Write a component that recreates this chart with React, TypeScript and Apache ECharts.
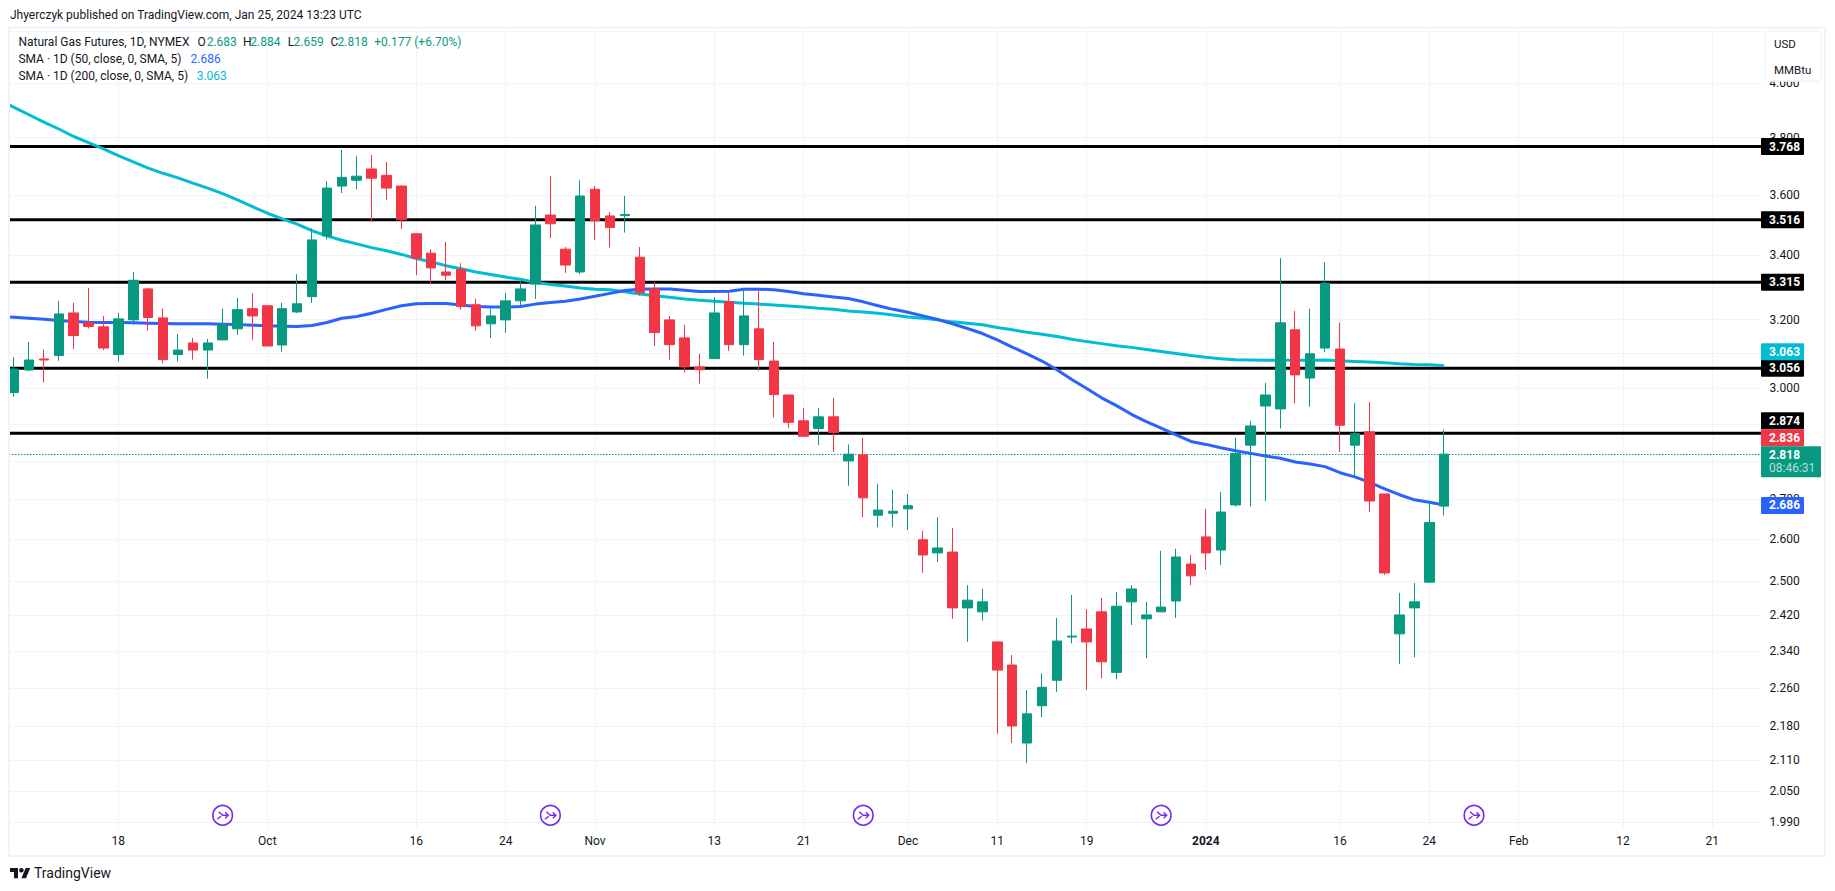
import React, { useEffect, useRef } from "react";
import * as echarts from "echarts";

const dates = [
  "Sep 6","Sep 7","Sep 8","Sep 11","Sep 12","Sep 13","Sep 14","Sep 15","Sep 18","Sep 19","Sep 20","Sep 21","Sep 22","Sep 25","Sep 26","Sep 27","Sep 28","Sep 29",
  "Oct 2","Oct 3","Oct 4","Oct 5","Oct 6","Oct 9","Oct 10","Oct 11","Oct 12","Oct 13","Oct 16","Oct 17","Oct 18","Oct 19","Oct 20","Oct 23","Oct 24","Oct 25","Oct 26","Oct 27","Oct 30","Oct 31",
  "Nov 1","Nov 2","Nov 3","Nov 6","Nov 7","Nov 8","Nov 9","Nov 10","Nov 13","Nov 14","Nov 15","Nov 16","Nov 17","Nov 20","Nov 21","Nov 22","Nov 24","Nov 27","Nov 28","Nov 29","Nov 30",
  "Dec 1","Dec 4","Dec 5","Dec 6","Dec 7","Dec 8","Dec 11","Dec 12","Dec 13","Dec 14","Dec 15","Dec 18","Dec 19","Dec 20","Dec 21","Dec 22","Dec 26","Dec 27","Dec 28","Dec 29",
  "Jan 2","Jan 3","Jan 4","Jan 5","Jan 8","Jan 9","Jan 10","Jan 11","Jan 12","Jan 16","Jan 17","Jan 18","Jan 19","Jan 22","Jan 23","Jan 24","Jan 25",
  "Jan 26","Jan 29","Jan 30","Jan 31","Feb 1","Feb 2","Feb 5","Feb 6","Feb 7","Feb 8","Feb 9","Feb 12","Feb 13","Feb 14","Feb 15","Feb 16","Feb 20","Feb 21","Feb 22","Feb 23","Feb 26",
];
const tickDates = ["Sep 18","Oct 2","Oct 16","Oct 24","Nov 1","Nov 13","Nov 21","Dec 1","Dec 11","Dec 19","Jan 2","Jan 16","Jan 24","Feb 1","Feb 12","Feb 21"];
const tickLabels = ["18","Oct","16","24","Nov","13","21","Dec","11","19","2024","16","24","Feb","12","21"];
const rolloverDates = ["Sep 27","Oct 27","Nov 28","Dec 27","Jan 29"];

const opens = [2.987,3.051,3.083,3.093,3.220,3.191,3.178,3.096,3.199,3.294,3.205,3.096,3.130,3.109,3.139,3.172,3.233,3.242,3.124,3.223,3.270,3.463,3.630,3.650,3.689,3.667,3.630,3.470,3.407,3.347,3.355,3.245,3.187,3.199,3.257,3.309,3.532,3.420,3.347,3.619,3.529,3.530,3.394,3.294,3.199,3.145,3.060,3.084,3.255,3.125,3.172,3.077,2.980,2.908,2.887,2.919,2.800,2.816,2.660,2.665,2.676,2.599,2.567,2.569,2.437,2.428,2.360,2.309,2.145,2.222,2.276,2.371,2.389,2.428,2.293,2.451,2.412,2.428,2.453,2.540,2.606,2.574,2.686,2.842,2.949,2.941,3.169,3.028,3.115,3.112,2.842,2.878,2.714,2.378,2.437,2.497,2.683];
const closes = [3.054,3.080,3.080,3.217,3.152,3.179,3.115,3.202,3.321,3.206,3.081,3.109,3.109,3.130,3.184,3.230,3.211,3.121,3.233,3.248,3.450,3.623,3.660,3.664,3.657,3.623,3.516,3.391,3.360,3.337,3.240,3.181,3.211,3.257,3.294,3.499,3.503,3.369,3.596,3.513,3.491,3.534,3.282,3.161,3.125,3.060,3.052,3.220,3.125,3.211,3.081,2.981,2.904,2.866,2.919,2.876,2.818,2.704,2.673,2.670,2.684,2.562,2.579,2.437,2.455,2.451,2.298,2.180,2.205,2.261,2.362,2.373,2.360,2.316,2.441,2.481,2.421,2.439,2.557,2.512,2.567,2.668,2.820,2.894,2.980,3.190,3.037,3.098,3.312,2.896,2.873,2.696,2.519,2.421,2.451,2.642,2.818];
const lows = [2.975,3.047,3.015,3.078,3.112,3.173,3.109,3.075,3.184,3.166,3.070,3.075,3.081,3.026,3.139,3.154,3.139,3.121,3.104,3.220,3.251,3.452,3.606,3.619,3.510,3.583,3.486,3.337,3.309,3.321,3.230,3.166,3.145,3.160,3.239,3.263,3.456,3.344,3.340,3.450,3.425,3.474,3.273,3.121,3.081,3.044,3.012,3.084,3.107,3.093,3.049,2.917,2.888,2.866,2.842,2.824,2.735,2.655,2.630,2.630,2.623,2.519,2.545,2.412,2.360,2.408,2.164,2.145,2.105,2.198,2.251,2.357,2.255,2.280,2.278,2.398,2.324,2.428,2.414,2.490,2.526,2.538,2.682,2.682,2.696,2.887,2.957,2.947,3.103,2.824,2.758,2.668,2.514,2.311,2.326,2.495,2.659];
const highs = [3.088,3.133,3.111,3.257,3.251,3.297,3.211,3.220,3.347,3.297,3.233,3.157,3.145,3.142,3.233,3.266,3.281,3.242,3.251,3.340,3.488,3.647,3.756,3.735,3.738,3.713,3.633,3.470,3.420,3.443,3.375,3.263,3.233,3.281,3.318,3.563,3.664,3.427,3.650,3.630,3.542,3.596,3.427,3.315,3.211,3.184,3.098,3.269,3.284,3.297,3.288,3.133,2.980,2.944,2.944,2.972,2.844,2.861,2.740,2.725,2.714,2.621,2.655,2.628,2.490,2.481,2.360,2.331,2.255,2.291,2.414,2.467,2.434,2.460,2.474,2.490,2.451,2.572,2.577,2.562,2.676,2.719,2.862,2.908,3.014,3.391,3.226,3.233,3.378,3.190,2.957,2.960,2.714,2.472,2.495,2.694,2.884];

const sma200 = [3.938,3.910,3.883,3.856,3.831,3.804,3.782,3.760,3.736,3.714,3.692,3.674,3.658,3.640,3.623,3.604,3.583,3.560,3.538,3.519,3.502,3.480,3.463,3.449,3.437,3.425,3.415,3.403,3.390,3.379,3.367,3.357,3.347,3.339,3.331,3.324,3.314,3.308,3.303,3.297,3.293,3.291,3.285,3.278,3.273,3.268,3.263,3.259,3.256,3.253,3.250,3.247,3.244,3.241,3.238,3.234,3.231,3.226,3.223,3.219,3.214,3.208,3.204,3.199,3.193,3.189,3.184,3.176,3.169,3.162,3.156,3.149,3.141,3.134,3.128,3.122,3.117,3.111,3.105,3.099,3.093,3.088,3.084,3.081,3.080,3.079,3.079,3.079,3.079,3.080,3.078,3.076,3.074,3.072,3.069,3.067,3.066,3.063];
const sma50 = [3.209,3.207,3.204,3.201,3.197,3.194,3.192,3.191,3.191,3.190,3.189,3.188,3.187,3.187,3.187,3.186,3.185,3.183,3.181,3.180,3.179,3.182,3.191,3.204,3.209,3.219,3.231,3.242,3.248,3.249,3.249,3.244,3.240,3.238,3.238,3.240,3.247,3.252,3.256,3.263,3.271,3.280,3.289,3.293,3.294,3.294,3.290,3.286,3.286,3.287,3.293,3.293,3.291,3.286,3.279,3.274,3.269,3.264,3.254,3.242,3.231,3.222,3.211,3.200,3.187,3.173,3.158,3.139,3.118,3.098,3.077,3.052,3.024,2.998,2.972,2.950,2.926,2.906,2.888,2.870,2.852,2.844,2.835,2.827,2.820,2.813,2.807,2.797,2.792,2.785,2.769,2.758,2.744,2.727,2.712,2.699,2.693,2.686];

const priceTicks = [4.2,4,3.8,3.6,3.4,3.3,3.2,3.1,3,2.9,2.8,2.7,2.6,2.5,2.42,2.34,2.26,2.18,2.11,2.05,1.99];
const priceLabels = [3.8,3.6,3.4,3.2,3,2.7,2.6,2.5,2.42,2.34,2.26,2.18,2.11,2.05,1.99];
const topPriceLabel = 4;
const levels = [3.768,3.516,3.315,3.056,2.874];
const lastClose = 2.818;
const prevClose = 2.836;
const sma50Last = 2.686;
const sma200Last = 3.063;
const countdown = "08:46:31";

const GREEN = "#089981";
const RED = "#f23645";
const BLUE = "#2962ff";
const CYAN = "#00bcd4";
const FRAME = "#f0f3fa";
const INK = "#131722";
const FONT = "Roboto";
const PURPLE = "#7428f0";

const BAND = 14.897;
const GRID_LEFT = -8.25;
const PLOT_RIGHT = 1761;

export default function App() {
  const ref = useRef<HTMLDivElement>(null);
  useEffect(() => {
    const chart = echarts.init(ref.current!, undefined, { renderer: "svg" });
    const tickMap: Record<string, string> = {};
    tickDates.forEach((d, i) => (tickMap[d] = tickLabels[i]));
    const isTick = (_: number, v: string) => v in tickMap;
    const candle = dates.map((_, i) => {
      const k = i - 1;
      return k >= 0 && k < opens.length ? [opens[k], closes[k], lows[k], highs[k]] : "-";
    });
    const hLine = (style: any, crisp: boolean) => (params: any, api: any) => {
      const y = api.coord([0, api.value(1)])[1];
      const yy = crisp ? Math.round(y) + 0.5 : y;
      return {
        type: "line",
        shape: { x1: 9, y1: yy, x2: PLOT_RIGHT, y2: yy },
        style,
        silent: true,
      };
    };
    chart.setOption({
      animation: false,
      backgroundColor: "#ffffff",
      grid: { left: GRID_LEFT, top: 29, width: BAND * dates.length, height: 799, containLabel: false, outerBoundsMode: "none" },
      xAxis: {
        type: "category",
        data: dates,
        boundaryGap: true,
        axisLine: { show: false },
        axisTick: { show: false, alignWithLabel: true, interval: isTick },
        splitLine: { show: true, alignWithLabel: true, interval: isTick, lineStyle: { color: FRAME, width: 1 } },
        axisLabel: {
          interval: isTick,
          margin: 7,
          color: INK,
          fontFamily: FONT,
          fontSize: 12,
          hideOverlap: false,
          formatter: (v: string) => (tickMap[v] === "2024" ? "{b|2024}" : tickMap[v] || ""),
          rich: { b: { fontWeight: "bold", color: INK, fontFamily: FONT, fontSize: 12 } },
        },
      },
      yAxis: {
        type: "log",
        logBase: 10,
        min: 1.9796,
        max: 4.2105,
        position: "right",
        axisLine: { show: false },
        axisTick: { show: false, customValues: priceTicks },
        splitLine: { show: true, lineStyle: { color: FRAME, width: 1 } },
        axisLabel: {
          customValues: priceLabels,
          margin: 5,
          color: INK,
          fontFamily: FONT,
          fontSize: 12,
          align: "left",
          formatter: (v: number) => Number(v).toFixed(3),
        },
      },
      series: [
        {
          type: "custom",
          name: "Levels",
          z: 2,
          clip: false,
          silent: true,
          data: levels.map((v) => [0, v]),
          encode: { x: 0, y: 1 },
          renderItem: hLine({ stroke: "#000000", lineWidth: 3 }, false),
        },
        {
          type: "line",
          name: "SMA 200",
          z: 3,
          data: sma200,
          showSymbol: false,
          symbol: "none",
          lineStyle: { color: CYAN, width: 3 },
        },
        {
          type: "line",
          name: "SMA 50",
          z: 3,
          data: sma50,
          showSymbol: false,
          symbol: "none",
          lineStyle: { color: BLUE, width: 3 },
        },
        {
          type: "custom",
          name: "Last",
          z: 3,
          clip: false,
          silent: true,
          data: [[0, lastClose]],
          encode: { x: 0, y: 1 },
          renderItem: hLine({ stroke: GREEN, lineWidth: 1, lineDash: [1.5, 1.5] }, true),
        },
        {
          type: "candlestick",
          name: "Natural Gas Futures",
          z: 4,
          data: candle,
          barWidth: 10,
          itemStyle: { color: GREEN, color0: RED, borderColor: GREEN, borderColor0: RED, borderWidth: 1 },
        },
      ],
    });

    const yOf = (v: number) => chart.convertToPixel({ yAxisIndex: 0 }, v) as number;
    const xOf = (d: string) => chart.convertToPixel({ xAxisIndex: 0 }, d) as number;
    const txt = (text: string, x: number, y: number, fill: string, size = 12, weight: any = "normal", align = "left", z = 120) => ({
      type: "text",
      x,
      y,
      z,
      silent: true,
      style: { text, fill, fontFamily: FONT, fontSize: size, fontWeight: weight, align, verticalAlign: "middle" },
    });
    const tag = (value: number, color: string, shift: number) => {
      const cy = yOf(value) + shift;
      return [
        { type: "rect", z: 110, silent: true, shape: { x: 1761, y: cy - 8.5, width: 43, height: 17, r: 1 }, style: { fill: color } },
        txt(value.toFixed(3), 1769, cy, "#ffffff", 12, "bold"),
      ];
    };
    const icon = (d: string) => {
      const cx = xOf(d);
      const cy = 815.3;
      const st = { stroke: PURPLE, lineWidth: 1.4, fill: "none" };
      return [
        { type: "circle", z: 90, silent: true, shape: { cx, cy, r: 9.8 }, style: { stroke: PURPLE, lineWidth: 1.6, fill: "#ffffff" } },
        { type: "polyline", z: 91, silent: true, shape: { points: [[cx - 4, cy - 3.5], [cx, cy], [cx + 5.5, cy]] }, style: st },
        { type: "polyline", z: 91, silent: true, shape: { points: [[cx + 2.5, cy - 3], [cx + 5.5, cy], [cx + 2.5, cy + 3]] }, style: st },
        { type: "line", z: 91, silent: true, shape: { x1: cx - 5.5, y1: cy + 4, x2: cx - 1.5, y2: cy + 1 }, style: st },
      ];
    };
    const greenY = yOf(lastClose);
    const elements: any[] = [
      { type: "rect", z: 1, silent: true, shape: { x: 1761, y: 28, width: 6, height: 801 }, style: { fill: "#ffffff" } },
      { type: "rect", z: 100, silent: true, shape: { x: 0, y: 0, width: 9, height: 891 }, style: { fill: "#ffffff" } },
      { type: "rect", z: 101, silent: true, shape: { x: 9, y: 27.5, width: 1816, height: 828.5 }, style: { stroke: FRAME, lineWidth: 2, fill: "none" } },
      txt(topPriceLabel.toFixed(3), 1769.3, yOf(topPriceLabel), INK, 12, "normal", "left", 102),
      { type: "rect", z: 105, silent: true, shape: { x: 1765, y: 31, width: 56, height: 50, r: 4 }, style: { fill: "#ffffff", stroke: FRAME, lineWidth: 1.5 } },
      txt("USD", 1774, 43.7, INK, 11.5),
      txt("MMBtu", 1774, 70, INK, 11.5),
      txt("Jhyerczyk published on TradingView.com, Jan 25, 2024 13:23 UTC", 10, 15, INK, 12),
      txt("Natural Gas Futures, 1D, NYMEX", 18.4, 41.7, INK, 12),
      txt("O", 197.5, 41.7, INK, 12),
      txt(opens[opens.length - 1].toFixed(3), 206.7, 41.7, GREEN, 12),
      txt("H", 243, 41.7, INK, 12),
      txt(highs[highs.length - 1].toFixed(3), 250.3, 41.7, GREEN, 12),
      txt("L", 287.8, 41.7, INK, 12),
      txt(lows[lows.length - 1].toFixed(3), 293.5, 41.7, GREEN, 12),
      txt("C", 330.6, 41.7, INK, 12),
      txt(closes[closes.length - 1].toFixed(3), 337.5, 41.7, GREEN, 12),
      txt("+0.177 (+6.70%)", 374.3, 41.7, GREEN, 12),
      txt("SMA · 1D (50, close, 0, SMA, 5)", 18.4, 59, INK, 12),
      txt(sma50Last.toFixed(3), 190.6, 59, BLUE, 12),
      txt("SMA · 1D (200, close, 0, SMA, 5)", 18.4, 76, INK, 12),
      txt(sma200Last.toFixed(3), 196.7, 76, CYAN, 12),
      ...levels.flatMap((v, i) => tag(v, "#000000", i === 4 ? -12.6 : 0)),
      ...tag(sma200Last, CYAN, -14.2),
      ...tag(prevClose, RED, -9.6),
      ...tag(sma50Last, BLUE, 0.5),
      { type: "rect", z: 110, silent: true, shape: { x: 1761, y: greenY - 8, width: 60, height: 31, r: 1 }, style: { fill: GREEN } },
      txt(lastClose.toFixed(3), 1769, greenY + 0.8, "#ffffff", 12, "bold"),
      txt(countdown, 1769, greenY + 14.3, "rgba(255,255,255,0.7)", 12),
      ...rolloverDates.flatMap(icon),
      {
        type: "group",
        x: 10,
        y: 865.7,
        scaleX: 0.57,
        scaleY: 0.57,
        z: 120,
        children: [
          { type: "polygon", z: 120, silent: true, shape: { points: [[0, 4], [14, 4], [14, 22], [7, 22], [7, 11], [0, 11]] }, style: { fill: INK } },
          { type: "polygon", z: 120, silent: true, shape: { points: [[27.5, 4], [35.5, 4], [28, 22], [20, 22]] }, style: { fill: INK } },
          { type: "circle", z: 120, silent: true, shape: { cx: 20, cy: 8, r: 4 }, style: { fill: INK } },
        ],
      },
      txt("TradingView", 34, 873.3, INK, 14),
    ];
    chart.setOption({ graphic: { elements } });
    return () => chart.dispose();
  }, []);
  return <div ref={ref} style={{ position: "absolute", left: 0, top: 0, width: 1835, height: 891, background: "#fff" }} />;
}
